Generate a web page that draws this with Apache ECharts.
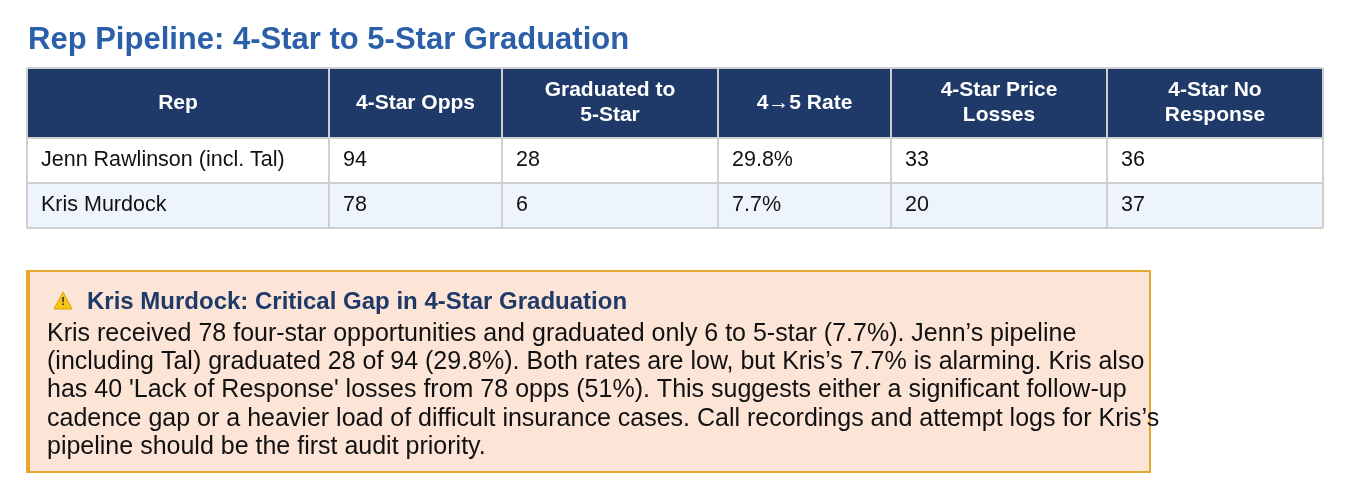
<!DOCTYPE html>
<html><head><meta charset="utf-8">
<script src="https://cdn.jsdelivr.net/npm/echarts@6/dist/echarts.min.js"></script>
<style>html,body{margin:0;padding:0;background:#fff}#c{width:1346px;height:492px}</style>
</head><body><div id="c"></div>
<script>
const title = 'Rep Pipeline: 4-Star to 5-Star Graduation';
const headers = ['Rep', '4-Star Opps', 'Graduated to\n5-Star', '4\u21925 Rate', '4-Star Price\nLosses', '4-Star No\nResponse'];
const reps = ['Jenn Rawlinson (incl. Tal)', 'Kris Murdock'];
const opps = [94, 78];
const graduated = [28, 6];
const rate = ['29.8%', '7.7%'];
const priceLosses = [33, 20];
const noResponse = [36, 37];
const calloutTitle = 'Kris Murdock: Critical Gap in 4-Star Graduation';
const calloutLines = [
  'Kris received 78 four-star opportunities and graduated only 6 to 5-star (7.7%). Jenn\u2019s pipeline',
  '(including Tal) graduated 28 of 94 (29.8%). Both rates are low, but Kris\u2019s 7.7% is alarming. Kris also',
  'has 40 \'Lack of Response\' losses from 78 opps (51%). This suggests either a significant follow-up',
  'cadence gap or a heavier load of difficult insurance cases. Call recordings and attempt logs for Kris\u2019s',
  'pipeline should be the first audit priority.'
];

const F = '"Liberation Sans", Arial, sans-serif';
const colX = [27, 329, 502, 718, 891, 1107, 1323];
const rowY = [68, 138, 183, 228];
const els = [];
els.push({type:'text', x:28, y:40, style:{text:title, font:'bold 31px '+F, fill:'#2b5fa8', verticalAlign:'middle'}});
els.push({type:'rect', shape:{x:colX[0], y:rowY[0], width:colX[6]-colX[0], height:rowY[1]-rowY[0]}, style:{fill:'#1f3a68'}});
els.push({type:'rect', shape:{x:colX[0], y:rowY[2], width:colX[6]-colX[0], height:rowY[3]-rowY[2]}, style:{fill:'#eef4fb'}});
headers.forEach((h,i)=>{
  els.push({type:'text', x:(colX[i]+colX[i+1])/2, y:(rowY[0]+rowY[1])/2,
    style:{text:h, font:'bold 21px '+F, fill:'#fff', align:'center', verticalAlign:'middle', lineHeight:25}});
});
const rows = reps.map((r,i)=>[r, opps[i], graduated[i], rate[i], priceLosses[i], noResponse[i]]);
rows.forEach((row,ri)=>{
  row.forEach((v,ci)=>{
    els.push({type:'text', x:colX[ci]+14, y:(rowY[ri+1]+rowY[ri+2])/2,
      style:{text:String(v), font:'21.5px '+F, fill:'#111', verticalAlign:'middle'}});
  });
});
colX.forEach(x=>els.push({type:'line', shape:{x1:x,y1:rowY[0],x2:x,y2:rowY[3]}, style:{stroke:'#cfcfcf', lineWidth:2}}));
rowY.forEach(y=>els.push({type:'line', shape:{x1:colX[0],y1:y,x2:colX[6],y2:y}, style:{stroke:'#cfcfcf', lineWidth:2}}));
els.push({type:'rect', shape:{x:28, y:271, width:1122, height:201}, style:{fill:'#fce4d6', stroke:'#e3a930', lineWidth:2}});
els.push({type:'rect', shape:{x:26, y:270, width:4, height:203}, style:{fill:'#e3a930'}});
els.push({type:'polygon', shape:{points:[[63,292],[54,309],[72,309]]}, style:{fill:'#f5c518', stroke:'#d9a400', lineWidth:1}});
els.push({type:'text', x:63, y:302, style:{text:'!', font:'bold 11px '+F, fill:'#222', align:'center', verticalAlign:'middle'}});
els.push({type:'text', x:87, y:302, style:{text:calloutTitle, font:'bold 24px '+F, fill:'#1f3a68', verticalAlign:'middle'}});
calloutLines.forEach((l,i)=>els.push({type:'text', x:47, y:334+i*28.3, style:{text:l, font:'25px '+F, fill:'#111', verticalAlign:'middle'}}));

const chart = echarts.init(document.getElementById('c'));
chart.setOption({animation:false, graphic:{elements:els}});
</script></body></html>
